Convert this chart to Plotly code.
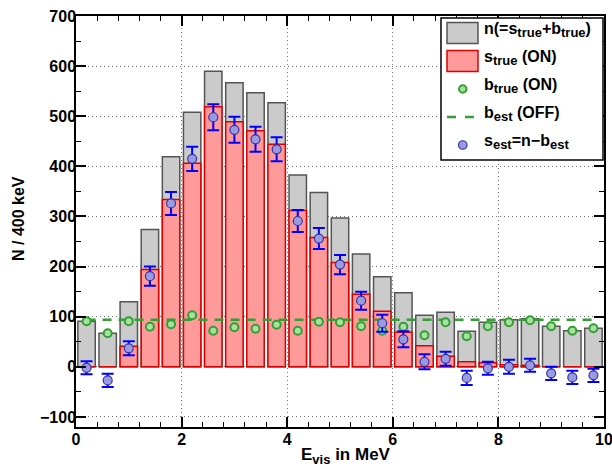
import plotly.graph_objects as go

# ---------------- data ----------------
energy = [0.2, 0.6, 1.0, 1.4, 1.8, 2.2, 2.6, 3.0, 3.4, 3.8, 4.2, 4.6, 5.0,
          5.4, 5.8, 6.2, 6.6, 7.0, 7.4, 7.8, 8.2, 8.6, 9.0, 9.4, 9.8]
n_total = [91, 67, 130, 274, 419, 508, 590, 567, 547, 527, 383, 348, 297,
           225, 180, 148, 103, 109, 71, 89, 94, 96, 81, 72, 77]
s_true = [0, 0, 41, 194, 334, 406, 519, 489, 471, 444, 312, 258, 208,
          145, 111, 69, 42, 21, 10, 8, 4, 3, 0, 0, 0]
b_true = [91, 67, 91, 80, 85, 103, 72, 79, 76, 84, 72, 90, 89,
          81, 72, 80, 63, 89, 61, 81, 89, 93, 81, 72, 77]
s_est = [-2, -27, 37, 181, 326, 415, 498, 473, 454, 434, 291, 256, 204,
         132, 87, 55, 10, 16, -22, -3, 0, 3, -13, -21, -17]
s_est_err = [13, 13, 14, 19, 23, 24, 26, 26, 25, 24, 22, 21, 19,
             18, 17, 16, 15, 14, 14, 13, 14, 13, 13, 13, 13]
b_est_x = [0.2, 9.8]
b_est = [94, 94]

SUB = "<sub><span style='font-size:13px'>{}</span></sub>"
legend_labels = [
    "n(=s" + SUB.format("true") + "+b" + SUB.format("true") + ")",
    "s" + SUB.format("true") + " (ON)",
    "b" + SUB.format("true") + " (ON)",
    "b" + SUB.format("est") + " (OFF)",
    "s" + SUB.format("est") + "=n\u2212b" + SUB.format("est"),
]
x_title = "E" + "<sub><span style='font-size:13px'>vis</span></sub>" + " in MeV"
y_title = "N / 400 keV"

# ---------------- styles ----------------
FONT = "Liberation Sans, Arial, Helvetica, sans-serif"
GRAY_FILL = "#cbcbcb"
GRAY_LINE = "#555555"
RED_FILL = "#ff9a9a"
RED_LINE = "#dd0000"
GREEN_LINE = "#33a033"
GREEN_FILL = "#a8e0a0"
BLUE_FILL = "#9a9ae0"
BLUE_LINE = "#3333aa"
ERR_BLUE = "#0000ff"

W, H = 612, 469
L, R, T, B = 76, 604, 16, 427   # plot area in pixels

fig = go.Figure()

fig.add_trace(go.Bar(x=energy, y=n_total, width=0.33,
                     marker=dict(color=GRAY_FILL, line=dict(color=GRAY_LINE, width=1.5)),
                     showlegend=False))
fig.add_trace(go.Bar(x=energy, y=s_true, width=0.33,
                     marker=dict(color=RED_FILL, line=dict(color=RED_LINE, width=1.5)),
                     showlegend=False))
fig.add_trace(go.Scatter(x=b_est_x, y=b_est, mode="lines",
                         line=dict(color=GREEN_LINE, width=2.5, dash="9px,7px"),
                         showlegend=False))
fig.add_trace(go.Scatter(x=energy, y=b_true, mode="markers",
                         marker=dict(symbol="circle", size=8, color=GREEN_FILL,
                                     line=dict(color=GREEN_LINE, width=2)),
                         showlegend=False))
fig.add_trace(go.Scatter(x=energy, y=s_est, mode="markers",
                         marker=dict(symbol="circle", size=9, color=BLUE_FILL,
                                     line=dict(color=BLUE_LINE, width=1.2)),
                         error_y=dict(type="data", array=s_est_err, visible=True,
                                      color=ERR_BLUE, thickness=2, width=6),
                         showlegend=False))

# ---------------- manual legend (ROOT style) ----------------
def px(xp):
    return (xp - L) / (R - L)

def py(yp):
    return (B - yp) / (B - T)

shapes = []
annotations = []
shapes.append(dict(type="rect", xref="paper", yref="paper",
                   x0=px(441), x1=px(603), y0=py(160), y1=py(18),
                   fillcolor="white", line=dict(color="black", width=1.5), layer="above"))
rows = [33, 61, 89, 117, 145]
shapes.append(dict(type="rect", xref="paper", yref="paper",
                   x0=px(447), x1=px(478), y0=py(rows[0] + 10.5), y1=py(rows[0] - 10.5),
                   fillcolor=GRAY_FILL, line=dict(color=GRAY_LINE, width=1.5), layer="above"))
shapes.append(dict(type="rect", xref="paper", yref="paper",
                   x0=px(447), x1=px(478), y0=py(rows[1] + 10.5), y1=py(rows[1] - 10.5),
                   fillcolor=RED_FILL, line=dict(color=RED_LINE, width=1.5), layer="above"))
shapes.append(dict(type="circle", xref="paper", yref="paper",
                   x0=px(459), x1=px(466.5), y0=py(rows[2] + 3.75), y1=py(rows[2] - 3.75),
                   fillcolor=GREEN_FILL, line=dict(color=GREEN_LINE, width=2), layer="above"))
shapes.append(dict(type="line", xref="paper", yref="paper",
                   x0=px(447), x1=px(478), y0=py(rows[3]), y1=py(rows[3]),
                   line=dict(color=GREEN_LINE, width=2.5, dash="dash"), layer="above"))
shapes.append(dict(type="circle", xref="paper", yref="paper",
                   x0=px(458.5), x1=px(467), y0=py(rows[4] + 4.25), y1=py(rows[4] - 4.25),
                   fillcolor=BLUE_FILL, line=dict(color=BLUE_LINE, width=1.2), layer="above"))

for lbl, r in zip(legend_labels, rows):
    annotations.append(dict(xref="paper", yref="paper", x=px(482), y=py(r - 5),
                            xanchor="left", yanchor="top", yshift=10, showarrow=False,
                            text=lbl, font=dict(family=FONT, size=16, color="black", weight="bold")))

# axis titles
annotations.append(dict(xref="paper", yref="paper", x=px(346), y=py(443),
                        xanchor="center", yanchor="top", showarrow=False,
                        text=x_title, font=dict(family=FONT, size=17, color="black", weight="bold")))
annotations.append(dict(xref="paper", yref="paper", x=px(19), y=py(219),
                        xanchor="center", yanchor="middle", showarrow=False, textangle=-90,
                        text=y_title, font=dict(family=FONT, size=16, color="black", weight="bold")))

axis_common = dict(
    showline=True, linecolor="black", linewidth=1.5, mirror="allticks",
    ticks="inside", tickcolor="black", tickwidth=1.5, ticklen=10,
    showgrid=True, gridcolor="#777777", griddash="1px,3px", gridwidth=1,
    zeroline=False, automargin=False, ticklabeloverflow="allow",
    tickfont=dict(family=FONT, size=16, color="black", weight="bold"),
)

fig.update_layout(
    width=W, height=H,
    margin=dict(l=L, r=W - R, t=T, b=H - B, autoexpand=False),
    paper_bgcolor="white", plot_bgcolor="white",
    barmode="overlay",
    shapes=shapes, annotations=annotations,
    xaxis=dict(range=[0, 10], dtick=2, tick0=0, ticklabelstandoff=-3,
               minor=dict(ticks="inside", ticklen=5, dtick=0.4, tickcolor="black", tickwidth=1.2, showgrid=False),
               **axis_common),
    yaxis=dict(range=[-120, 700], dtick=100, tick0=0, ticklabelstandoff=-5,
               minor=dict(ticks="inside", ticklen=5, dtick=50, tickcolor="black", tickwidth=1.2, showgrid=False),
               **axis_common),
    font=dict(family=FONT),
)

fig.write_html("out.html", config={"displayModeBar": False},
               post_script="document.body.style.margin='0px';document.body.style.padding='0px';")
